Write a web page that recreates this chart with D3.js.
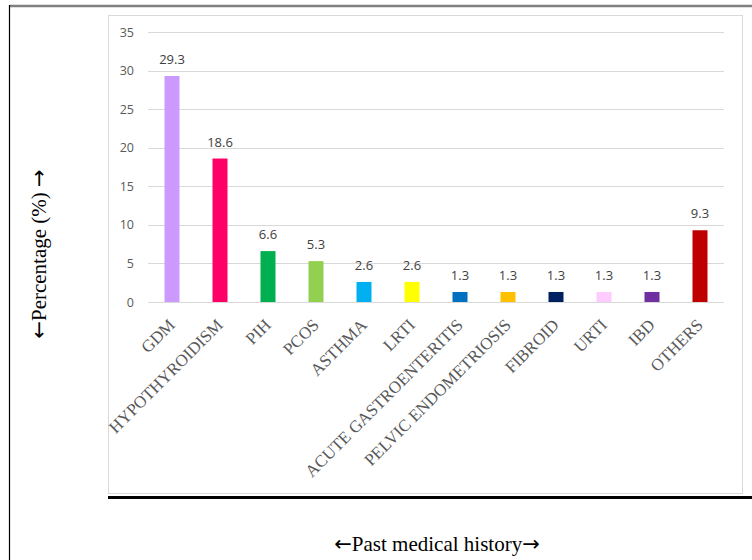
<!DOCTYPE html>
<html>
<head>
<meta charset="utf-8">
<script src="https://cdn.jsdelivr.net/npm/d3@7"></script>
<style>
  html, body { margin: 0; padding: 0; background: #fff; }
  svg { display: block; }
</style>
</head>
<body>
<svg id="chart" width="752" height="560"></svg>
<script>
// Past medical history — share of cases (%)
const categories = ["GDM", "HYPOTHYROIDISM", "PIH", "PCOS", "ASTHMA", "LRTI",
  "ACUTE GASTROENTERITIS", "PELVIC ENDOMETRIOSIS", "FIBROID", "URTI", "IBD", "OTHERS"];
const values = [29.3, 18.6, 6.6, 5.3, 2.6, 2.6, 1.3, 1.3, 1.3, 1.3, 1.3, 9.3];
const barColors = ["#CC99FF", "#FF0066", "#00B050", "#92D050", "#00B0F0", "#FFFF00",
  "#0070C0", "#FFC000", "#002060", "#FFCCFF", "#7030A0", "#C00000"];
const yTicks = [0, 5, 10, 15, 20, 25, 30, 35];

const svg = d3.select("#chart");
const serif = "'Liberation Serif', 'Times New Roman', serif";
const sans = "'Open Sans', 'Liberation Sans', sans-serif";
const arrowFont = "'DejaVu Sans', sans-serif";

// outer frame: grey rule on top, thin black rule on the left
svg.append("line").attr("x1", 10).attr("x2", 752).attr("y1", 6).attr("y2", 6)
  .attr("stroke", "#808080").attr("stroke-width", 2.5);
svg.append("line").attr("x1", 9.5).attr("x2", 9.5).attr("y1", 5).attr("y2", 560)
  .attr("stroke", "#000").attr("stroke-width", 1.2);

// chart area box
svg.append("rect").attr("x", 108.5).attr("y", 15.5).attr("width", 634).attr("height", 478)
  .attr("fill", "#fff").attr("stroke", "#d9d9d9").attr("stroke-width", 1);

// heavy rule under the chart area
svg.append("line").attr("x1", 108).attr("x2", 752).attr("y1", 497.5).attr("y2", 497.5)
  .attr("stroke", "#000").attr("stroke-width", 3);

const x = d3.scaleBand().domain(categories).range([148, 724]).paddingInner(0).paddingOuter(0);
const y = d3.scaleLinear().domain([0, 35]).range([302, 32]);
const barW = 15;

// horizontal gridlines
svg.append("g").selectAll("line").data(yTicks).join("line")
  .attr("x1", 148).attr("x2", 724)
  .attr("y1", d => Math.round(y(d)) + 0.5).attr("y2", d => Math.round(y(d)) + 0.5)
  .attr("stroke", "#d9d9d9").attr("stroke-width", 1);

// y axis tick labels
const yAxis = d3.axisLeft(y).tickValues(yTicks).tickSize(0).tickPadding(0);
const gy = svg.append("g").attr("transform", "translate(134,0)").call(yAxis);
gy.select(".domain").remove();
gy.selectAll("text")
  .attr("font-family", sans)
  .attr("font-size", 12.5).attr("fill", "#595959");

// bars
svg.append("g").selectAll("rect").data(values).join("rect")
  .attr("x", (d, i) => x(categories[i]) + x.bandwidth() / 2 - barW / 2)
  .attr("y", d => y(d))
  .attr("width", barW)
  .attr("height", d => y(0) - y(d))
  .attr("fill", (d, i) => barColors[i]);

// value labels
svg.append("g").selectAll("text").data(values).join("text")
  .attr("x", (d, i) => x(categories[i]) + x.bandwidth() / 2)
  .attr("y", d => y(d) - 12)
  .attr("text-anchor", "middle")
  .attr("font-family", sans)
  .attr("font-size", 13).attr("fill", "#404040")
  .text(d => d.toFixed(1));

// category labels, rotated
const xAxis = d3.axisBottom(x).tickSize(0).tickPadding(0);
const gx = svg.append("g").attr("transform", "translate(0,302)").call(xAxis);
gx.select(".domain").remove();
gx.selectAll("text")
  .attr("font-family", serif)
  .attr("font-size", 17).attr("fill", "#595959")
  .attr("text-anchor", "end")
  .attr("dy", 0)
  .attr("transform", "translate(4,24) rotate(-45)");

// axis titles with long arrows
function arrowTitle(sel, label) {
  sel.append("tspan").attr("font-family", arrowFont).text("\u2190");
  sel.append("tspan").text(label);
  sel.append("tspan").attr("font-family", arrowFont).text("\u2192");
}

const yTitle = svg.append("text")
  .attr("transform", "translate(46,254) rotate(-90)")
  .attr("text-anchor", "middle")
  .attr("font-family", serif)
  .attr("font-size", 21).attr("fill", "#000");
arrowTitle(yTitle, "Percentage (%) ");

const xTitle = svg.append("text")
  .attr("x", 437).attr("y", 551)
  .attr("text-anchor", "middle")
  .attr("font-family", serif)
  .attr("font-size", 21).attr("fill", "#000");
arrowTitle(xTitle, "Past medical history");
</script>
</body>
</html>
